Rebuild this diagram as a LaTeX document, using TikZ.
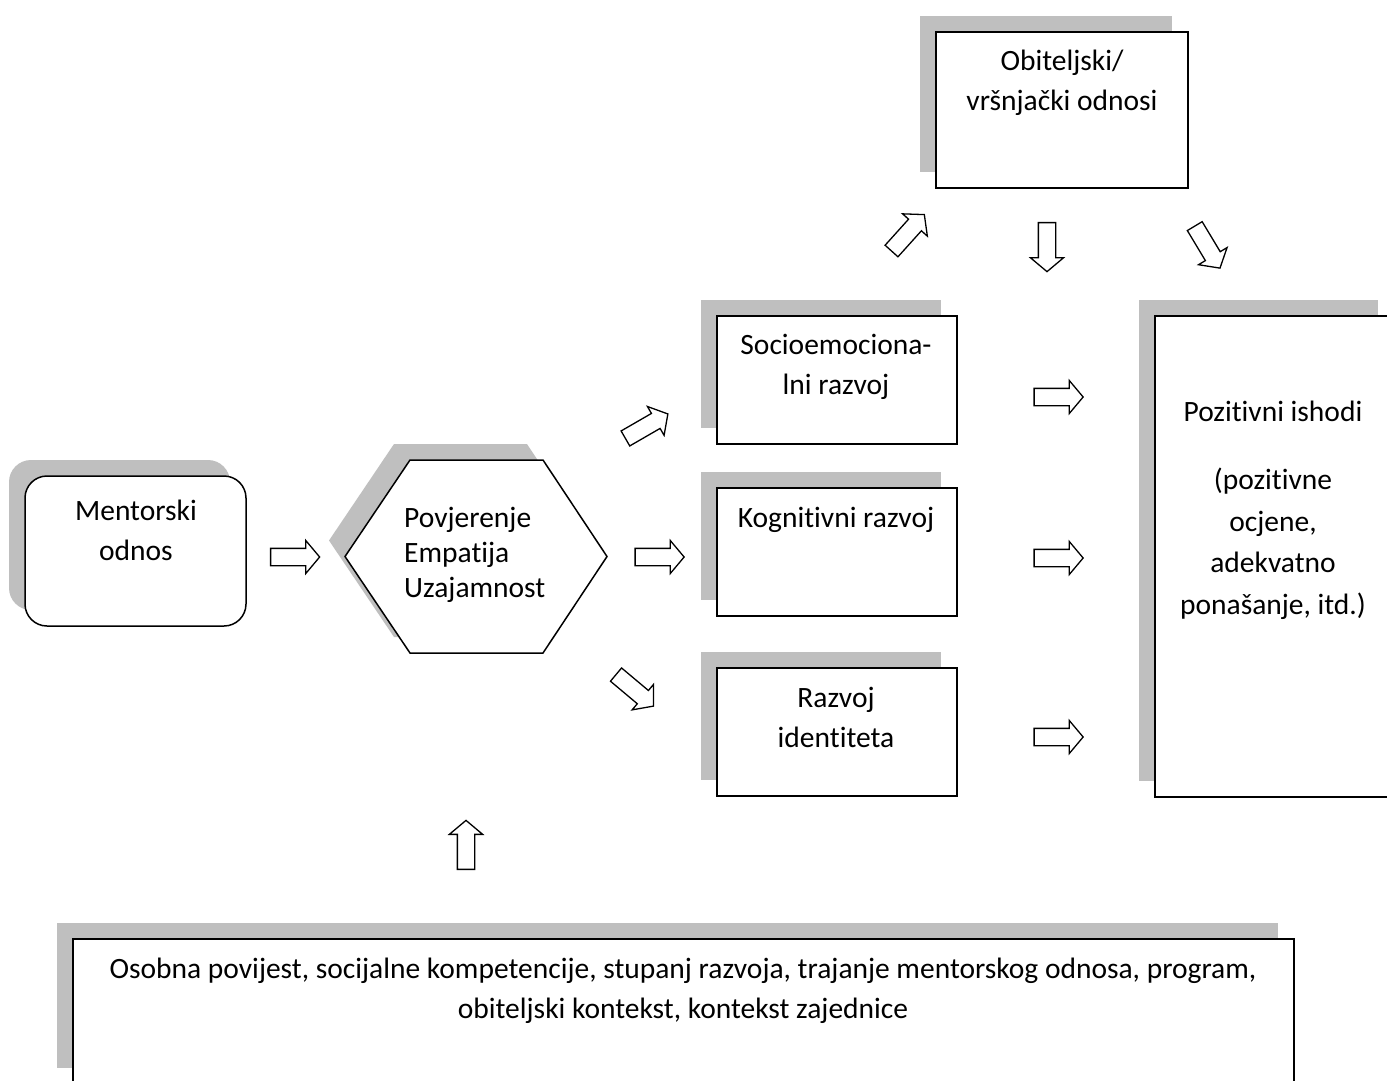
\documentclass[tikz,border=0pt]{standalone}
\usepackage{fontspec}
\setmainfont[Ligatures=NoCommon]{Carlito}
\usetikzlibrary{shapes.arrows,shadows}
\definecolor{shadowgray}{HTML}{BFBFBF}
\tikzset{
  shadowed/.style={drop shadow={shadow xshift=-16pt,shadow yshift=16pt,fill=shadowgray,opacity=1}},
  box/.style={draw, line width=1.5pt, fill=white, shadowed, inner sep=0pt},
  lbl/.style={font=\fontsize{29.5}{40}\selectfont, align=center, inner sep=0pt},
  barrow/.style={single arrow, draw, line width=1.3pt, fill=white, inner xsep=0pt, inner ysep=0pt,
    text height=8pt, text depth=8pt, single arrow head extend=8pt, single arrow tip angle=100,
    minimum height=49pt},
}
\begin{document}
\begin{tikzpicture}[x=1pt,y=-1pt]
\useasboundingbox (0,0) rectangle (1387,1080);
\clip (0,0) rectangle (1387,1080);
\fill[white] (0,0) rectangle (1387,1080);
% boxes
\node[box, rounded corners=22pt, minimum width=221pt, minimum height=150pt] (mentor) at (135.5,551) {};
\draw[line width=1.5pt, fill=white, shadowed] (345,556.5) -- (410,460) -- (543,460) -- (607,556.5) -- (543,653) -- (410,653) -- cycle;
\node[box, minimum width=252pt, minimum height=156pt] (obit) at (1062,110) {};
\node[box, minimum width=240pt, minimum height=128pt] (socio) at (837,380) {};
\node[box, minimum width=240pt, minimum height=128pt] (kog) at (837,552) {};
\node[box, minimum width=240pt, minimum height=128pt] (razv) at (837,732) {};
\node[box, minimum width=239pt, minimum height=481pt] (poz) at (1274.5,556.5) {};
\node[box, minimum width=1221pt, minimum height=145pt] (osob) at (683.5,1011.5) {};
% texts
\node[lbl] (tmentor) at (136,532.5) {\strut Mentorski\\\strut odnos};
\node[lbl, font=\fontsize{29.5}{35}\selectfont, align=left, anchor=west] (hex) at (404,555) {\strut Povjerenje\\\strut Empatija\\\strut Uzajamnost};
\node[lbl] (tobit) at (1062,82) {\strut Obiteljski/\\\strut vršnjački odnosi};
\node[lbl] (tsocio) at (836,366.5) {\strut Socioemociona-\\\strut lni razvoj};
\node[lbl] (tkog) at (836,519) {\strut Kognitivni razvoj};
\node[lbl] (trazv) at (836,719) {\strut Razvoj\\\strut identiteta};
\node[lbl] (tpoz) at (1273,413) {\strut Pozitivni ishodi};
\node[lbl, font=\fontsize{29.5}{41.7}\selectfont] (tpoz2) at (1273,543.5) {\strut (pozitivne\\\strut ocjene,\\\strut adekvatno\\\strut ponašanje, itd.)};
\node[lbl] (tosob) at (683,990) {\strut Osobna povijest, socijalne kompetencije, stupanj razvoja, trajanje mentorskog odnosa, program,\\\strut obiteljski kontekst, kontekst zajednice};
% block arrows
\node[barrow] (a1) at (291.5,557) {};
\node[barrow] (a2) at (656,557) {};
\node[barrow, rotate=30] (a3) at (643.5,428) {};
\node[barrow, rotate=-40] (a4) at (632,688) {};
\node[barrow] (a5) at (1055,397) {};
\node[barrow] (a6) at (1055,558) {};
\node[barrow] (a7) at (1055,737) {};
\node[barrow, rotate=48] (a8) at (905.5,235.5) {};
\node[barrow, rotate=-90] (a9) at (1047,243.5) {};
\node[barrow, rotate=-59] (a10) at (1205.5,244) {};
\node[barrow, rotate=90] (a11) at (466,848.5) {};
\end{tikzpicture}
\end{document}
